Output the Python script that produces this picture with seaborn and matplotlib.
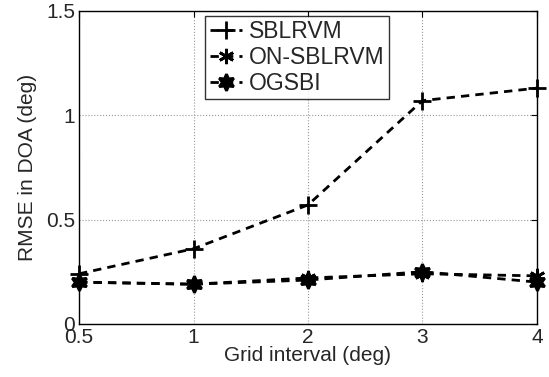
import numpy as np
import pandas as pd
import matplotlib
matplotlib.use("Agg")
import matplotlib.pyplot as plt
import seaborn as sns

# grid intervals (deg) and RMSE values
grid_labels = ["0.5", "1", "2", "3", "4"]
sblrvm = [0.24, 0.36, 0.57, 1.07, 1.13]
on_sblrvm = [0.20, 0.19, 0.22, 0.24, 0.23]
ogsbi = [0.20, 0.19, 0.21, 0.25, 0.20]

pos = np.arange(len(grid_labels))
df = pd.DataFrame({
    "pos": np.tile(pos, 3),
    "rmse": sblrvm + on_sblrvm + ogsbi,
    "method": ["SBLRVM"] * 5 + ["ON-SBLRVM"] * 5 + ["OGSBI"] * 5,
})

sns.set_style("white")
plt.rcParams['font.family'] = ['Liberation Sans', 'DejaVu Sans']

fig = plt.figure(figsize=(5.49, 3.77), dpi=100)
ax = fig.add_axes([0.144, 0.141, 0.834, 0.830])

markers = {"SBLRVM": "+", "ON-SBLRVM": (6, 2, 0), "OGSBI": (6, 1, 0)}
sizes = {"SBLRVM": 13, "ON-SBLRVM": 11, "OGSBI": 12}
for name in ["SBLRVM", "ON-SBLRVM", "OGSBI"]:
    sub = df[df["method"] == name]
    sns.lineplot(data=sub, x="pos", y="rmse", ax=ax, color="black",
                 linestyle=(0, (3, 2.2)), linewidth=2.0, marker=markers[name],
                 markersize=sizes[name], markeredgewidth=2.0,
                 markerfacecolor="black" if name != "SBLRVM" else "none",
                 markeredgecolor="black", label=name, clip_on=False)

ax.set_xlim(0, 4)
ax.set_ylim(0, 1.5)
ax.set_xticks(pos)
ax.set_xticklabels(grid_labels)
ax.set_yticks([0, 0.5, 1, 1.5])
ax.set_yticklabels(["0", "0.5", "1", "1.5"])
ax.grid(True, linestyle=":", color="#999999", linewidth=0.8)
for s in ax.spines.values():
    s.set_color("black")
    s.set_linewidth(1.0)
ax.tick_params(axis="both", labelsize=15, direction="in", length=4, color="black",
               top=True, right=True, pad=3)
ax.set_xlabel("Grid interval (deg)", fontsize=15, labelpad=-1)
ax.set_ylabel("RMSE in DOA (deg)", fontsize=15, labelpad=6)

leg = ax.legend(loc="upper left", bbox_to_anchor=(0.275, 0.985), fontsize=16.5,
                frameon=True, fancybox=False, edgecolor="black",
                handlelength=1.4, handletextpad=0.3, borderpad=0.2,
                labelspacing=0.12, borderaxespad=0.0)
leg.get_frame().set_linewidth(1.0)

fig.savefig("out.png", dpi=100)
